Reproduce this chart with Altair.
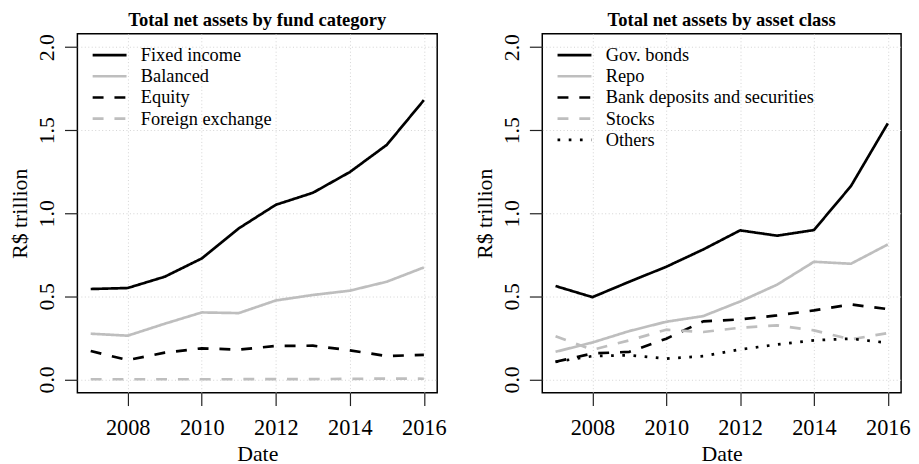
import altair as alt
import pandas as pd

years = list(range(2007, 2017))

# Left panel: by fund category (R$ trillion)
cat_names = ["Fixed income", "Balanced", "Equity", "Foreign exchange"]
fixed_income = [0.544, 0.550, 0.618, 0.728, 0.909, 1.051, 1.123, 1.248, 1.412, 1.681]
balanced = [0.275, 0.263, 0.335, 0.403, 0.399, 0.475, 0.508, 0.534, 0.588, 0.674]
equity = [0.171, 0.116, 0.161, 0.187, 0.179, 0.201, 0.203, 0.175, 0.140, 0.148]
foreign_exchange = [0.001, 0.001, 0.001, 0.001, 0.001, 0.002, 0.002, 0.003, 0.005, 0.004]

# Right panel: by asset class (R$ trillion)
cls_names = ["Gov. bonds", "Repo", "Bank deposits and securities", "Stocks", "Others"]
gov_bonds = [0.562, 0.495, 0.588, 0.678, 0.782, 0.897, 0.865, 0.899, 1.163, 1.541]
repo = [0.166, 0.222, 0.291, 0.347, 0.381, 0.469, 0.570, 0.708, 0.696, 0.812]
bank_deposits = [0.106, 0.156, 0.166, 0.245, 0.349, 0.361, 0.385, 0.415, 0.451, 0.423]
stocks = [0.259, 0.178, 0.235, 0.299, 0.285, 0.311, 0.325, 0.295, 0.241, 0.279]
others = [0.105, 0.140, 0.145, 0.125, 0.140, 0.180, 0.210, 0.235, 0.245, 0.220]

x_ticks = [2008, 2010, 2012, 2014, 2016]
y_ticks = [0.0, 0.5, 1.0, 1.5, 2.0]

BLACK = "#000000"
GRAY = "#bebebe"
SOLID = [1, 0]
DASH = [11, 11]
DOT = [2.7, 8.6]
FONT = "Liberation Serif"


def long_df(names, series):
    rows = []
    for n, vals in zip(names, series):
        for yr, v in zip(years, vals):
            rows.append({"year": yr, "value": v, "series": n})
    return pd.DataFrame(rows)


df_left = long_df(cat_names, [fixed_income, balanced, equity, foreign_exchange])
df_right = long_df(cls_names, [gov_bonds, repo, bank_deposits, stocks, others])

x_axis = alt.Axis(
    values=x_ticks, format="d", title="Date", domain=False,
    grid=True, gridColor="#d3d3d3", gridDash=[1, 2.5], gridWidth=1,
    tickSize=13, tickColor="#222222", tickWidth=1.2,
    labelFont=FONT, labelFontSize=22.5, labelColor=BLACK,
    labelBaseline="alphabetic", labelPadding=29, labelFlush=False,
    titleFont=FONT, titleFontSize=22, titleFontWeight="normal", titleColor=BLACK,
    titleBaseline="alphabetic", titleY=68,
)


def y_axis():
    return alt.Axis(
        values=y_ticks, format=".1f", title="R$ trillion", domain=False,
        grid=True, gridColor="#d3d3d3", gridDash=[1, 2.5], gridWidth=1,
        tickSize=13, tickColor="#222222", tickWidth=1.2,
        labelFont=FONT, labelFontSize=22, labelColor=BLACK,
        labelAngle=270, labelAlign="center", labelBaseline="alphabetic",
        labelPadding=11, labelFlush=False,
        titleFont=FONT, titleFontSize=22, titleFontWeight="normal", titleColor=BLACK,
        titleAngle=270, titleAlign="center", titleBaseline="alphabetic",
        titleX=-51, titleY=181,
    )


def panel(df, names, colors, dashes, title, w):
    leg = alt.Legend(
        title=None, orient="none", legendX=21.5, legendY=10.4,
        symbolType="M-1.8,0L1.8,0", symbolSize=361, symbolStrokeWidth=2.7,
        symbolFillColor="transparent",
        labelFont=FONT, labelFontSize=18.5, labelColor=BLACK,
        labelOffset=20.5, rowPadding=0.4, padding=0, labelLimit=400,
    )
    return (
        alt.Chart(df)
        .mark_line(strokeWidth=2.7, strokeCap="butt", strokeJoin="round", clip=True)
        .encode(
            x=alt.X("year:Q", scale=alt.Scale(domain=[2006.64, 2016.36], nice=False, zero=False), axis=x_axis),
            y=alt.Y("value:Q", scale=alt.Scale(domain=[-0.08, 2.08], nice=False, zero=False), axis=y_axis()),
            color=alt.Color("series:N", scale=alt.Scale(domain=names, range=colors), legend=leg),
            strokeDash=alt.StrokeDash("series:N", scale=alt.Scale(domain=names, range=dashes), legend=leg),
            order=alt.Order("year:Q"),
        )
        .properties(
            width=w, height=362,
            title=alt.TitleParams(
                title, font=FONT, fontSize=18.7, fontWeight="bold", color=BLACK,
                anchor="middle", baseline="alphabetic", offset=-11, frame="group",
            ),
        )
    )


left = panel(df_left, cat_names, [BLACK, GRAY, BLACK, GRAY], [SOLID, SOLID, DASH, DASH],
             "Total net assets by fund category", 363)
right = panel(df_right, cls_names, [BLACK, GRAY, BLACK, GRAY, BLACK], [SOLID, SOLID, DASH, DASH, DOT],
              "Total net assets by asset class", 362)

chart = (
    alt.hconcat(left, right, spacing=106, bounds="flush")
    .resolve_scale(color="independent", strokeDash="independent")
    .resolve_legend(color="independent", strokeDash="independent")
    .properties(padding={"left": 0, "top": 0, "right": 0, "bottom": 10}, background="white")
    .configure_view(stroke=BLACK, strokeWidth=1.5)
)

chart.save("out.html", embed_options={"renderer": "svg", "actions": False})
